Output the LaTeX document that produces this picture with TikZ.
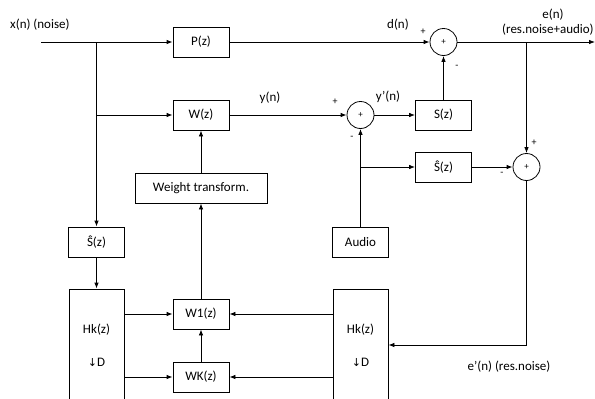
\documentclass[tikz,border=0pt]{standalone}
\usepackage{fontspec}
\setmainfont{Carlito}
\newfontfamily\arrowfont{DejaVu Sans}
\usetikzlibrary{arrows.meta}
\begin{document}
\begin{tikzpicture}[x=1pt,y=-1pt,
  blk/.style={draw, line width=0.8pt, minimum width=56pt, minimum height=30pt, inner sep=0pt, font=\fontsize{13}{15}\selectfont},
  tall/.style={draw, line width=0.8pt, minimum width=55pt, minimum height=122pt, inner sep=0pt},
  sumc/.style={draw, line width=0.8pt, circle, minimum size=27pt, inner sep=0pt, font=\fontsize{9}{11}\selectfont},
  lbl/.style={font=\fontsize{13}{15}\selectfont, inner sep=0pt},
  sgn/.style={font=\fontsize{10}{12}\selectfont, inner sep=0pt},
  conn/.style={line width=0.8pt, -{Latex[length=6pt,width=4.5pt]}},
  wire/.style={line width=0.8pt}]
\useasboundingbox (0,0) rectangle (595,399);
% blocks
\node[blk] (P) at (201,42) {P(z)};
\node[blk] (W) at (201,115) {W(z)};
\node[blk, minimum width=132pt] (wt) at (201,188) {Weight transform.};
\node[blk] (sh1) at (96.5,242) {Ŝ(z)};
\node[blk] (S) at (443.5,115) {S(z)};
\node[blk] (sh2) at (443.5,167) {Ŝ(z)};
\node[blk] (audio) at (360.5,242) {Audio};
\node[blk] (W1) at (201,314) {W1(z)};
\node[blk] (WK) at (201,377) {WK(z)};
\node[tall] (hk1) at (96.5,350) {};
\node[tall] (hk2) at (360.5,350) {};
\node[lbl] (hk1t) at (96.5,330) {Hk(z)};
\node[lbl] (hk1d) at (96.5,362) {{\arrowfont\fontsize{11}{13}\selectfont ↓}D};
\node[lbl] (hk2t) at (360.5,330) {Hk(z)};
\node[lbl] (hk2d) at (360.5,362) {{\arrowfont\fontsize{11}{13}\selectfont ↓}D};
% summing junctions
\node[sumc] (c1) at (443.5,42) {+};
\node[sumc] (c2) at (360.5,115) {+};
\node[sumc] (c3) at (526.5,167) {+};
% coordinates
\coordinate (xin) at (41,42);
\coordinate (b1) at (96.5,42);
\coordinate (b2) at (96.5,115);
\coordinate (b3) at (360.5,167);
\coordinate (b4) at (526.5,42);
\coordinate (eout) at (595,42);
\coordinate (fb) at (526.5,345);
% connectors
\draw[conn] (xin) -- (P.west);
\draw[conn] (b1) -- (sh1.north);
\draw[conn] (b2) -- (W.west);
\draw[conn] (P.east) -- (c1.west);
\draw[conn] (W.east) -- (c2.west);
\draw[conn] (c2.east) -- (S.west);
\draw[conn] (S.north) -- (c1.south);
\draw[conn] (c1.east) -- (eout);
\draw[conn] (b4) -- (c3.north);
\draw[conn] (audio.north) -- (c2.south);
\draw[conn] (b3) -- (sh2.west);
\draw[conn] (sh2.east) -- (c3.west);
\draw[conn] (c3.south) -- (fb) -- (fb -| hk2.east);
\draw[conn] (sh1.south) -- (hk1.north);
\draw[conn] (hk1.east |- W1.west) -- (W1.west);
\draw[conn] (hk1.east |- WK.west) -- (WK.west);
\draw[conn] (hk2.west |- W1.east) -- (W1.east);
\draw[conn] (hk2.west |- WK.east) -- (WK.east);
\draw[conn] (WK.north) -- (W1.south);
\draw[conn] (W1.north) -- (wt.south);
\draw[conn] (wt.north) -- (W.south);
% labels
\node[lbl, anchor=west] (lx) at (10,25) {x(n) (noise)};
\node[lbl] (ld) at (398,25) {d(n)};
\node[sgn] (s1) at (423,32) {+};
\node[sgn] (s2) at (457,67) {-};
\node[lbl] (le) at (553,15) {e(n)};
\node[lbl, anchor=west] (le2) at (502,30) {(res.noise+audio)};
\node[lbl] (ly) at (270,98) {y(n)};
\node[sgn] (s3) at (335,102) {+};
\node[lbl] (lyp) at (388,97) {y’(n)};
\node[sgn] (s4) at (352,138) {-};
\node[sgn] (s5) at (534,143) {+};
\node[sgn] (s6) at (502,174) {-};
\node[lbl] (lep) at (509,367) {e’(n) (res.noise)};
\end{tikzpicture}
\end{document}
